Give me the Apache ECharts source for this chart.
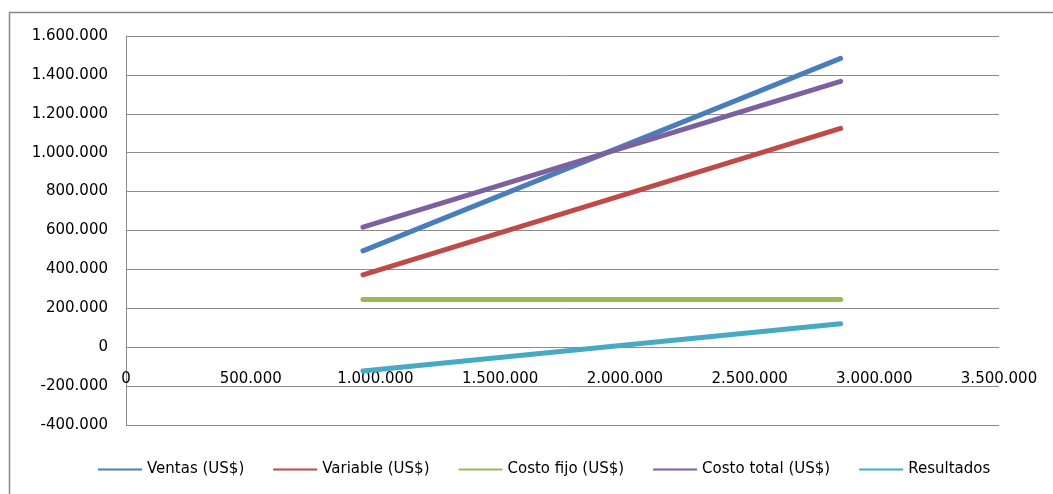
<!DOCTYPE html>
<html>
<head>
<meta charset="utf-8">
<script src="https://cdn.jsdelivr.net/npm/echarts@6/dist/echarts.min.js"></script>
<style>
  html, body { margin: 0; padding: 0; background: #fff; }
  #chart { width: 1053px; height: 494px; }
</style>
</head>
<body>
<div id="chart"></div>
<script>
const xUnits = [950000, 2865000]
const ventas = [495000, 1485000]
const variable = [372000, 1125000]
const costoFijo = [245000, 245000]
const costoTotal = [617000, 1367000]
const resultados = [-122000, 120000]

const SERIES = [
  { name: 'Ventas (US$)', color: '#4A7EBB', values: ventas },
  { name: 'Variable (US$)', color: '#BE4B48', values: variable },
  { name: 'Costo fijo (US$)', color: '#98B954', values: costoFijo },
  { name: 'Costo total (US$)', color: '#7D60A0', values: costoTotal },
  { name: 'Resultados', color: '#46AAC5', values: resultados },
]

const FONT = 'DejaVu Sans'
const GRID_COLOR = '#8c8c8c'
const GRID_TOP = 36
const GRID_BOTTOM = 69
const Y_MIN = -400000
const Y_MAX = 1600000

// 1600000 -> 1.600.000
const fmt = (v) => {
  const s = String(Math.abs(v)).replace(/\B(?=(\d{3})+(?!\d))/g, '.')
  return v < 0 ? '-' + s : s
}

// lift the x axis from the grid bottom up to the y = 0 line
const plotHeight = 494 - GRID_TOP - GRID_BOTTOM
const zeroOffset = -plotHeight * (0 - Y_MIN) / (Y_MAX - Y_MIN)

const chart = echarts.init(document.getElementById('chart'))
chart.setOption({
  animation: false,
  textStyle: { fontFamily: FONT },
  graphic: [
    {
      type: 'rect',
      shape: { x: 9.5, y: 12.5, width: 1100, height: 600 },
      style: { fill: 'none', stroke: '#8a8a8a', lineWidth: 1.5 },
      silent: true,
    },
  ],
  grid: {
    left: 126,
    right: 54,
    top: GRID_TOP,
    bottom: GRID_BOTTOM,
  },
  legend: {
    left: 93,
    top: 457,
    icon: 'rect',
    itemWidth: 44,
    itemHeight: 2,
    itemGap: 29,
    textStyle: { fontFamily: FONT, fontSize: 15, color: '#000', padding: [0, 0, 0, 0] },
    data: SERIES.map((s) => s.name),
  },
  xAxis: {
    type: 'value',
    min: 0,
    max: 3500000,
    interval: 500000,
    position: 'bottom',
    offset: zeroOffset,
    axisLine: { show: true, onZero: false, lineStyle: { color: GRID_COLOR, width: 1 } },
    axisTick: { show: false },
    splitLine: { show: false },
    axisLabel: {
      formatter: fmt,
      color: '#000',
      fontFamily: FONT,
      fontSize: 15,
      margin: 24,
      showMinLabel: true,
      showMaxLabel: true,
    },
  },
  yAxis: {
    type: 'value',
    min: Y_MIN,
    max: Y_MAX,
    interval: 200000,
    axisLine: { show: true, onZero: false, lineStyle: { color: GRID_COLOR, width: 1 } },
    axisTick: { show: false },
    axisLabel: {
      formatter: fmt,
      color: '#000',
      fontFamily: FONT,
      fontSize: 15,
      margin: 18,
    },
    splitLine: { show: true, lineStyle: { color: GRID_COLOR, width: 1 } },
  },
  series: SERIES.map((s) => ({
    name: s.name,
    type: 'line',
    showSymbol: false,
    symbol: 'none',
    data: xUnits.map((x, i) => [x, s.values[i]]),
    lineStyle: { width: 5, color: s.color, cap: 'round' },
    itemStyle: { color: s.color },
  })),
})
</script>
</body>
</html>
